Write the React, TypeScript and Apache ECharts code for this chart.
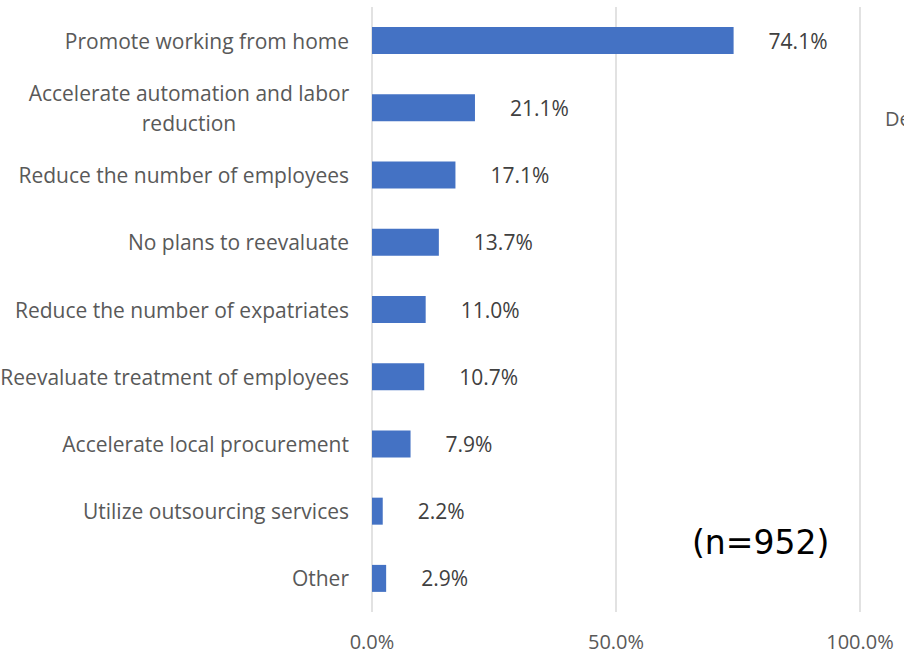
import React, { useEffect, useRef } from "react";
import * as echarts from "echarts";

const categories = [
  "Promote working from home",
  "Accelerate automation and labor\nreduction",
  "Reduce the number of employees",
  "No plans to reevaluate",
  "Reduce the number of expatriates",
  "Reevaluate treatment of employees",
  "Accelerate local procurement",
  "Utilize outsourcing services",
  "Other",
];
const values = [74.1, 21.1, 17.1, 13.7, 11.0, 10.7, 7.9, 2.2, 2.9];
const xTicks = [0, 50, 100];
const sampleNote = "(n=952)";
const clippedText = "De";

const FONT = "'Open Sans'";

export default function App() {
  const ref = useRef<HTMLDivElement>(null);
  useEffect(() => {
    if (!ref.current) return;
    const chart = echarts.init(ref.current, undefined, { renderer: "svg" });
    chart.setOption({
      animation: false,
      backgroundColor: "#ffffff",
      textStyle: { fontFamily: FONT },
      grid: {
        left: 372,
        right: 44,
        top: 7,
        bottom: 45,
        containLabel: false,
        outerBoundsMode: "none",
      },
      xAxis: {
        type: "value",
        min: xTicks[0],
        max: xTicks[xTicks.length - 1],
        interval: xTicks[1] - xTicks[0],
        axisLine: { show: false },
        axisTick: { show: false },
        splitLine: { show: true, lineStyle: { color: "#d9d9d9", width: 1.5 } },
        axisLabel: {
          margin: 19,
          fontSize: 20,
          color: "#595959",
          fontFamily: FONT,
          formatter: (v: number) => v.toFixed(1) + "%",
        },
      },
      yAxis: {
        type: "category",
        inverse: true,
        data: categories,
        axisLine: { show: false },
        axisTick: { show: false },
        axisLabel: {
          margin: 23,
          fontSize: 21,
          color: "#595959",
          fontFamily: FONT,
          lineHeight: 30,
          formatter: (v: string) =>
            v.includes("\n")
              ? v
                  .split("\n")
                  .map((l) => "{c|" + l + "}")
                  .join("\n")
              : v,
          rich: {
            c: {
              width: 320,
              align: "center",
              fontSize: 21,
              color: "#595959",
              fontFamily: FONT,
              lineHeight: 30,
            },
          },
        },
      },
      series: [
        {
          type: "bar",
          data: values,
          barWidth: 27,
          itemStyle: { color: "#4472c4" },
          label: {
            show: true,
            position: "right",
            distance: 35,
            fontSize: 21,
            color: "#404040",
            fontFamily: FONT,
            formatter: (p: any) => Number(p.value).toFixed(1) + "%",
          },
        },
      ],
      graphic: [
        {
          type: "text",
          left: 692,
          top: 526,
          style: {
            text: sampleNote,
            fontSize: 33,
            fill: "#000000",
            fontFamily: "'DejaVu Sans'",
          },
        },
        {
          type: "text",
          left: 885,
          top: 108,
          style: {
            text: clippedText,
            fontSize: 20,
            fill: "#595959",
            fontFamily: FONT,
          },
        },
      ],
    });
    return () => chart.dispose();
  }, []);
  return (
    <div
      ref={ref}
      style={{ position: "fixed", left: 0, top: 0, width: 904, height: 657 }}
    />
  );
}
